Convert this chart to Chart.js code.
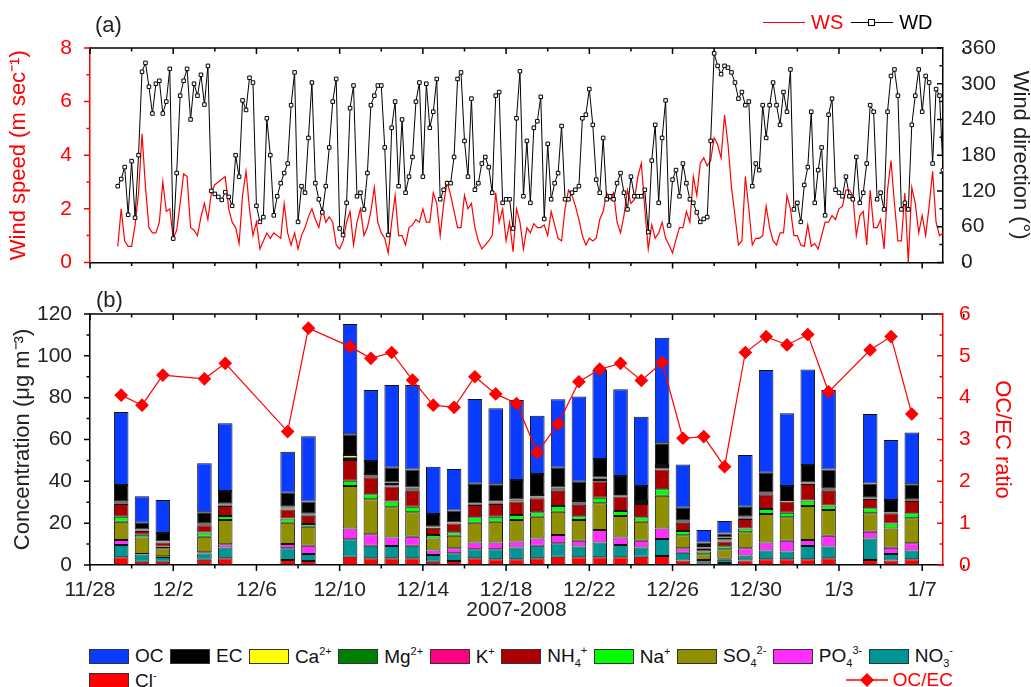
<!DOCTYPE html>
<html>
<head>
<meta charset="utf-8">
<script src="https://cdn.jsdelivr.net/npm/chart.js@4"></script>
<style>
  body { margin: 0; background: #fff; font-family: "Liberation Sans", Arial, sans-serif; }
  #wrap { position: relative; width: 1031px; height: 687px; overflow: hidden; }
  canvas { position: absolute; left: 0; }
  .panel { position: absolute; font-size: 22px; color: #222; }
  #topLegend { position: absolute; top: 11px; left: 763px; font-size: 20px; display: flex; align-items: center; }
  #topLegend .ln { display: inline-block; width: 42px; height: 0; border-top: 1.3px solid; position: relative; }
  #topLegend .sq { position: absolute; left: 17px; top: -4px; width: 5px; height: 5px; border: 1.3px solid #000; background: #fff; }
  #legend { position: absolute; left: 89px; top: 644px; width: 864px; font-size: 19px; color: #111; }
  #legend .row { display: flex; justify-content: space-between; align-items: center; height: 24px; }
  #legend .item { display: flex; align-items: center; white-space: nowrap; }
  #legend .box { width: 38px; height: 13px; border: 1px solid #333; margin-right: 6px; }
  #legend sub, #legend sup { font-size: 11px; }
  #legend sup { vertical-align: 8px; }
  #legend sub { vertical-align: -5px; }
</style>
</head>
<body>
<div id="wrap">
  <canvas id="windChart" width="1031" height="285" style="top:0"></canvas>
  <canvas id="specChart" width="1031" height="345" style="top:285px"></canvas>
  <div class="panel" style="left:95px; top:12px">(a)</div>
  <div class="panel" style="left:96px; top:287px">(b)</div>
  <div id="topLegend">
    <span class="ln" style="border-color:#f00"></span>
    <span style="color:#f00; margin:0 8px 0 6px">WS</span>
    <span class="ln" style="border-color:#000"><span class="sq"></span></span>
    <span style="margin-left:6px">WD</span>
  </div>
  <div id="legend"></div>
</div>
<script>
// ---- (a) wind, 4-hourly samples starting 11/29 08:00 (day 1.333 after 11/28 00:00)
const windStartDay = 8 / 6;
const windStepDay = 1 / 6;
const windSpeed = [
  0.6,2.0,0.8,0.6,0.6,1.4,2.6,4.8,2.8,1.3,1.1,1.1,1.5,3.0,1.9,2.0,0.9,1.2,2.2,3.3,3.2,1.3,1.2,1.0,1.7,2.2,1.6,2.6,2.9,3.0,3.1,3.2,2.0,1.5,
  1.3,0.7,2.5,3.4,2.0,1.0,1.5,0.5,0.8,1.1,0.9,1.1,1.0,0.9,2.2,1.1,0.65,1.1,0.5,1.0,1.3,1.7,2.0,1.6,1.3,2.0,1.5,1.7,1.5,0.65,0.5,0.8,1.5,1.9,0.65,1.5,2.0,1.0,1.3,1.9,2.8,
  1.5,1.1,0.9,0.35,1.5,2.5,1.0,1.0,0.65,1.3,1.4,1.6,1.5,2.0,1.5,1.5,2.6,2.2,1.0,2.2,3.0,2.5,1.9,1.3,1.3,2.5,2.0,2.2,1.3,0.8,0.5,0.65,0.8,1.0,2.6,1.5,2.0,0.8,1.5,0.4,2.0,
  1.5,0.5,1.3,1.1,1.45,1.3,1.3,1.4,1.0,1.9,1.4,0.9,0.8,2.0,2.7,2.5,2.1,1.6,1.0,0.65,0.9,0.8,0.9,1.6,1.9,2.6,2.35,2.6,1.5,1.1,1.75,2.7,2.2,2.35,3.2,3.7,2.0,0.5,1.4,0.9,1.1,
  1.5,0.9,0.65,0.35,0.85,1.3,1.3,1.9,1.5,3.2,2.5,3.7,3.9,3.6,3.8,4.65,4.4,3.9,5.5,4.4,2.8,1.75,0.65,0.8,3.2,2.0,0.65,0.9,0.9,1.0,2.1,1.3,0.8,0.65,1.1,1.1,2.5,2.0,1.0,1.0,0.65,
  0.6,
  1.4,0.6,0.7,0.5,1.0,1.5,1.5,1.75,1.6,2.0,2.1,2.7,2.7,2.5,1.0,1.75,1.9,0.65,2.7,1.3,1.3,1.6,0.5,2.7,3.8,2.2,0.8,0.8,2.6,0.0,2.8,2.2,1.1,1.75,1.0,2.1,3.4,1.5,1.0,1.1
];
const windDir = [
  128,140,160,80,170,75,180,320,335,295,250,300,305,250,270,325,40,150,280,305,325,240,300,280,315,265,330,120,115,110,105,118,110,95,
  180,144,272,256,310,302,95,68,76,242,180,79,111,133,150,166,264,319,68,128,117,209,302,133,106,84,128,193,270,308,57,46,100,259,297,111,117,89,150,264,280,
  297,297,193,46,226,270,128,240,117,144,177,270,302,144,300,226,253,308,106,122,133,133,177,308,319,204,144,275,122,133,166,177,160,117,280,286,100,106,106,57,242,
  321,111,204,100,226,237,278,73,199,106,133,150,229,106,106,117,122,128,242,248,291,231,139,117,209,106,111,106,133,150,117,89,144,111,111,111,122,51,171,231,100,
  209,272,62,139,155,111,166,133,106,100,84,68,73,76,204,351,330,316,330,327,319,302,275,286,264,270,128,166,155,264,209,264,302,264,231,286,253,324,89,100,68,
  130,
  160,253,100,155,193,79,248,275,122,117,111,144,111,106,177,100,117,166,264,253,106,117,89,253,313,324,280,89,100,89,231,280,324,253,313,302,166,291,280,155
];

// ---- (b) daily filter samples
const sampleDates = ['11/29','11/30','12/1','12/3','12/4','12/7','12/8','12/10','12/11','12/12','12/13','12/14','12/15','12/16','12/17','12/18','12/19',
  '12/20','12/21','12/22','12/23','12/24','12/25','12/26','12/27','12/28','12/29','12/30','12/31','1/1','1/2','1/4','1/5','1/6'];
const OC  = [34.9,12.7,15.8,23.4,32.4,19.6,31.1,52.7,34.0,39.6,40.4,22.6,19.9,40.6,36.3,38.3,27.9,32.7,40.7,42.5,41.5,33.1,50.5,20.7,5.9,5.9,24.7,49.1,34.7,45.7,38.0,33.2,28.7,24.8];
const EC  = [8.1,3.2,3.9,5.2,6.1,6.4,5.9,9.9,6.2,7.1,8.6,6.1,5.6,9.4,8.3,9.3,10.0,9.5,9.2,8.9,9.0,7.2,10.4,6.2,1.7,2.0,4.8,9.5,7.2,8.4,9.0,6.8,5.8,7.2];
const Ca  = [0.4,0.3,0.2,0.4,0.4,0.6,0.3,1.3,0.6,0.7,0.6,0.2,0.1,0.2,0.4,0.4,0.8,0.5,0.8,0.6,0.2,0.5,0.9,0.3,0.7,0.8,0.4,0.2,0.1,0.2,0.5,0.2,0.2,0.3];
const Mg  = [0.3,0.2,0.2,0.3,0.3,0.5,0.3,0.6,0.5,0.6,0.5,0.1,0.2,0.2,0.4,0.3,0.4,0.5,0.5,0.6,0.3,0.4,0.6,0.3,0.4,0.6,0.3,0.3,0.1,0.2,0.3,0.2,0.2,0.2];
const K   = [0.3,0.2,0.2,0.3,0.4,0.5,0.3,0.5,0.5,0.6,0.5,0.2,0.2,0.3,0.3,0.3,0.4,0.5,0.5,0.6,0.3,0.5,0.6,0.4,0.3,0.5,0.4,0.3,0.1,0.3,0.4,0.2,0.2,0.3];
const NH4 = [6.1,1.8,2.0,3.5,4.8,4.3,4.0,9.9,8.1,7.2,7.6,3.5,4.3,5.9,6.1,6.4,6.7,7.3,5.5,7.8,6.9,6.4,9.5,3.9,1.3,2.2,4.5,7.0,5.3,7.9,7.1,4.5,4.8,5.9];
const Na  = [2.4,1.3,0.8,2.0,1.9,2.0,1.3,2.5,2.4,2.7,2.7,1.6,1.6,2.6,2.4,2.4,2.1,2.7,1.8,2.7,2.4,2.1,3.1,2.1,1.3,1.5,1.9,2.4,2.2,2.6,2.1,2.4,2.4,2.4];
const SO4 = [8.7,7.9,3.8,7.4,11.6,10.2,9.1,20.3,16.7,14.4,11.7,5.8,6.0,9.4,9.9,10.3,10.4,11.2,9.9,12.8,10.3,9.1,15.6,6.2,2.7,4.5,7.6,13.6,11.2,16.2,12.3,8.8,9.2,11.9];
const PO4 = [2.4,0.3,0.4,0.6,1.5,2.0,3.9,5.2,5.5,4.1,4.3,2.1,2.4,3.3,3.3,2.8,3.5,3.9,2.8,5.9,3.5,3.2,5.1,2.1,0.6,0.5,3.5,3.9,5.2,2.9,5.2,3.2,3.0,3.5];
const NO3 = [5.9,3.5,2.3,3.0,5.2,5.6,3.4,8.3,6.0,5.9,6.0,3.2,3.7,4.3,4.8,5.7,6.0,6.4,5.1,7.1,5.9,4.4,8.1,3.8,1.2,1.5,2.4,4.2,3.7,6.4,5.6,10.3,3.2,4.2];
const Cl  = [3.7,1.5,1.5,2.5,3.2,2.4,1.9,4.0,3.2,3.2,3.2,1.6,1.9,3.2,2.7,2.7,3.2,4.0,3.7,3.7,3.7,4.0,4.3,2.1,0.6,1.0,2.1,2.7,2.7,2.7,3.2,2.4,2.1,2.7];
const ocecRatio = [4.06,3.82,4.54,4.45,4.82,3.19,5.66,5.22,4.94,5.08,4.42,3.82,3.77,4.50,4.09,3.86,2.69,3.37,4.38,4.68,4.82,4.41,4.84,3.03,3.07,2.35,5.08,5.46,5.26,5.51,4.14,5.14,5.46,3.61];

const xTickLabels = ['11/28','12/2','12/6','12/10','12/14','12/18','12/22','12/26','12/30','1/3','1/7'];

// legend order (top of stack first), as in the figure
const species = [
  { key: 'OC',  data: OC,  color: '#0a3cff', html: 'OC' },
  { key: 'EC',  data: EC,  color: '#000000', html: 'EC' },
  { key: 'Ca',  data: Ca,  color: '#ffff00', html: 'Ca<sup>2+</sup>' },
  { key: 'Mg',  data: Mg,  color: '#008000', html: 'Mg<sup>2+</sup>' },
  { key: 'K',   data: K,   color: '#ff0080', html: 'K<sup>+</sup>' },
  { key: 'NH4', data: NH4, color: '#aa0000', html: 'NH<sub>4</sub><sup>+</sup>' },
  { key: 'Na',  data: Na,  color: '#00ff00', html: 'Na<sup>+</sup>' },
  { key: 'SO4', data: SO4, color: '#8f8f00', html: 'SO<sub>4</sub><sup>2-</sup>' },
  { key: 'PO4', data: PO4, color: '#ff30ff', html: 'PO<sub>4</sub><sup>3-</sup>' },
  { key: 'NO3', data: NO3, color: '#009595', html: 'NO<sub>3</sub><sup>-</sup>' },
  { key: 'Cl',  data: Cl,  color: '#ff0000', html: 'Cl<sup>-</sup>' }
];

// days since 11/28 00:00, bar centred at noon
function dayOf(md) {
  const [m, d] = md.split('/').map(Number);
  const y = m >= 11 ? 2007 : 2008;
  return (Date.UTC(y, m - 1, d) - Date.UTC(2007, 10, 28)) / 86400000 + 0.5;
}
const sampleX = sampleDates.map(dayOf);

const FONT = '"Liberation Sans", Arial, sans-serif';
Chart.defaults.font.family = FONT;
Chart.defaults.color = '#222';

// tick marks (major/minor, outward or inward) + top frame line
const frameTicks = {
  id: 'frameTicks',
  afterDraw(chart, args, opts) {
    const ctx = chart.ctx, a = chart.chartArea;
    ctx.save();
    ctx.lineWidth = 1.5;
    ctx.strokeStyle = '#000';
    ctx.beginPath(); ctx.moveTo(a.left, a.top); ctx.lineTo(a.right, a.top); ctx.stroke();
    opts.axes.forEach(function (ax) {
      const sc = chart.scales[ax.id];
      ctx.strokeStyle = ax.color;
      ctx.beginPath();
      const n = Math.round((sc.max - sc.min) / ax.minor);
      for (let i = 0; i <= n; i++) {
        const v = sc.min + i * ax.minor;
        const r = v / ax.major;
        const len = Math.abs(r - Math.round(r)) < 1e-6 ? 6 : 3.5;
        const p = sc.getPixelForValue(v);
        if (ax.side === 'bottom') {
          ctx.moveTo(p, a.bottom); ctx.lineTo(p, a.bottom + len);
          ctx.moveTo(p, a.top); ctx.lineTo(p, a.top + len);
        } else if (ax.side === 'left') {
          ctx.moveTo(a.left, p); ctx.lineTo(a.left - len, p);
        } else {
          ctx.moveTo(a.right, p); ctx.lineTo(a.right - len, p);
        }
      }
      ctx.stroke();
    });
    ctx.restore();
  }
};

function xScale(showLabels, height) {
  return {
    type: 'linear', min: 0, max: 41, offset: false,
    grid: { display: false, offset: false },
    border: { display: true, color: '#000', width: 1.5 },
    ticks: {
      display: showLabels, stepSize: 4, includeBounds: false, autoSkip: false, maxRotation: 0,
      padding: 5, color: '#222', font: { size: 21 },
      callback: v => xTickLabels[v / 4] || ''
    },
    title: { display: showLabels, text: '2007-2008', color: '#222', font: { size: 21 }, padding: { top: 0, bottom: 7 } },
    afterFit: s => { s.height = height; }
  };
}

// ---- chart (a)
const windPts = arr => arr.map((v, i) => ({ x: windStartDay + i * windStepDay, y: v }));
new Chart(document.getElementById('windChart'), {
  type: 'line',
  data: {
    datasets: [
      { label: 'WD', data: windPts(windDir), yAxisID: 'yWD', borderColor: '#000', borderWidth: 1,
        pointStyle: 'rect', pointRadius: 2.5, pointBackgroundColor: '#fff', pointBorderColor: '#000', pointBorderWidth: 1 },
      { label: 'WS', data: windPts(windSpeed), yAxisID: 'yWS', borderColor: '#ff0000', borderWidth: 1.2, pointRadius: 0 }
    ]
  },
  options: {
    responsive: false, animation: false,
    layout: { padding: { top: 48, left: 0, right: 0, bottom: 0 } },
    plugins: { legend: { display: false }, tooltip: { enabled: false },
      frameTicks: { axes: [
        { id: 'x', major: 4, minor: 2, side: 'bottom', color: '#000' },
        { id: 'yWS', major: 2, minor: 1, side: 'left', color: '#f00' },
        { id: 'yWD', major: 60, minor: 30, side: 'right', color: '#000' }
      ] } },
    scales: {
      x: xScale(false, 17),
      yWS: {
        position: 'left', min: 0, max: 8,
        grid: { display: false }, border: { color: '#f00', width: 1.5 },
        ticks: { stepSize: 2, color: '#f00', font: { size: 21 }, padding: 10 },
        title: { display: true, text: 'Wind speed (m sec⁻¹)', color: '#f00', font: { size: 22 }, padding: { top: 6, bottom: 0 } },
        afterFit: s => { s.width = 90; }
      },
      yWD: {
        position: 'right', min: 0, max: 360,
        grid: { display: false }, border: { color: '#000', width: 1.5 },
        ticks: { stepSize: 60, color: '#222', font: { size: 21 }, padding: 10 },
        title: { display: true, text: 'Wind direction (°)', color: '#222', font: { size: 22 }, padding: { top: -2, bottom: 0 } },
        afterFit: s => { s.width = 88; }
      }
    }
  },
  plugins: [frameTicks]
});

// ---- chart (b)
const barSets = species.slice().reverse().map(sp => ({
  type: 'bar', label: sp.key, yAxisID: 'y', order: 1,
  data: sp.data.map((v, i) => ({ x: sampleX[i], y: v })),
  backgroundColor: sp.color, borderColor: '#111', borderWidth: 1, borderSkipped: false,
  categoryPercentage: 0.7, barPercentage: 1
}));
new Chart(document.getElementById('specChart'), {
  type: 'bar',
  data: {
    datasets: [
      { type: 'line', label: 'OC/EC', yAxisID: 'y2', order: 0,
        data: ocecRatio.map((v, i) => ({ x: sampleX[i], y: v })),
        borderColor: '#ff0000', borderWidth: 1.2, pointStyle: 'rectRot', pointRadius: 6,
        pointBackgroundColor: '#ff0000', pointBorderColor: '#ff0000' }
    ].concat(barSets)
  },
  options: {
    responsive: false, animation: false,
    layout: { padding: { top: 29, left: 0, right: 0, bottom: 0 } },
    plugins: { legend: { display: false }, tooltip: { enabled: false },
      frameTicks: { axes: [
        { id: 'x', major: 4, minor: 2, side: 'bottom', color: '#000' },
        { id: 'y', major: 20, minor: 10, side: 'left', color: '#000' },
        { id: 'y2', major: 1, minor: 0.5, side: 'right', color: '#f00' }
      ] } },
    scales: {
      x: Object.assign(xScale(true, 65), { stacked: true }),
      y: {
        position: 'left', stacked: true, min: 0, max: 120,
        grid: { display: false }, border: { color: '#000', width: 1.5 },
        ticks: { stepSize: 20, color: '#222', font: { size: 21 }, padding: 10 },
        title: { display: true, text: 'Concentration (μg m⁻³)', color: '#222', font: { size: 22 }, padding: { top: 10, bottom: 0 } },
        afterFit: s => { s.width = 90; }
      },
      y2: {
        position: 'right', min: 0, max: 6,
        grid: { display: false }, border: { color: '#f00', width: 1.5 },
        ticks: { stepSize: 1, color: '#f00', font: { size: 21 }, padding: 8 },
        title: { display: true, text: 'OC/EC ratio', color: '#f00', font: { size: 22 }, padding: { top: 16, bottom: 0 } },
        afterFit: s => { s.width = 88; }
      }
    }
  },
  plugins: [frameTicks]
});

// ---- HTML legend for (b)
(function () {
  const box = document.getElementById('legend');
  const row1 = document.createElement('div'); row1.className = 'row';
  const row2 = document.createElement('div'); row2.className = 'row';
  species.forEach(function (sp, i) {
    const it = document.createElement('span'); it.className = 'item';
    it.innerHTML = '<span class="box" style="background:' + sp.color + '"></span><span>' + sp.html + '</span>';
    (i < 10 ? row1 : row2).appendChild(it);
  });
  const oe = document.createElement('span'); oe.className = 'item';
  oe.style.color = '#f00';
  oe.innerHTML = '<svg width="42" height="14" style="margin-right:5px"><line x1="0" y1="7" x2="42" y2="7" stroke="#f00" stroke-width="1.3"/>' +
    '<polygon points="21,0 28,7 21,14 14,7" fill="#f00"/></svg>OC/EC';
  row2.appendChild(oe);
  box.appendChild(row1); box.appendChild(row2);
})();
</script>
</body>
</html>
